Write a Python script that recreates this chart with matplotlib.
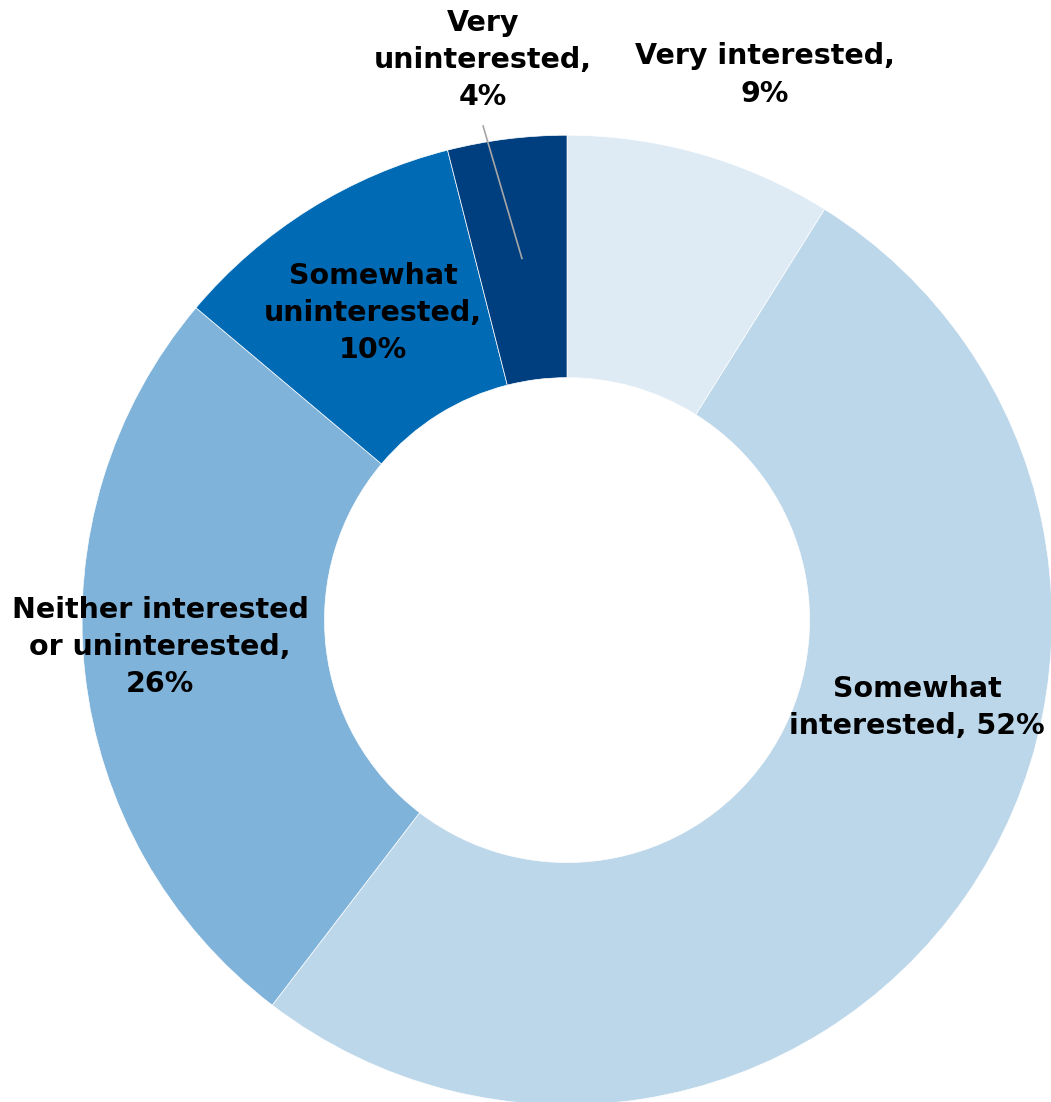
import matplotlib.pyplot as plt

categories = ["Very interested", "Somewhat interested", "Neither interested or uninterested",
              "Somewhat uninterested", "Very uninterested"]
values = [9, 52, 26, 10, 4]
labels = ["Very interested,\n9%", "Somewhat\ninterested, 52%", "Neither interested\nor uninterested,\n26%",
          "Somewhat\nuninterested,\n10%", "Very\nuninterested,\n4%"]
colors = ["#DEEBF5", "#BDD7EA", "#7FB3DA", "#006AB5", "#003F7F"]
label_pos = [(0.408, 1.124), (0.722, -0.181), (-0.839, -0.056), (-0.40, 0.633), (-0.173, 1.155)]

fig = plt.figure(figsize=(10.51, 11.02), dpi=100)
ax = fig.add_axes([0.078, -0.0027, 0.923, 0.880])
ax.pie(values, colors=colors, startangle=90, counterclock=False, radius=1,
       wedgeprops=dict(width=0.5, edgecolor="white", linewidth=0.5))
ax.set_xlim(-1, 1)
ax.set_ylim(-1, 1)
ax.set_aspect("auto")
ax.axis("off")

for lab, (x, y) in zip(labels, label_pos):
    ax.text(x, y, lab, ha="center", va="center", fontsize=20.5, fontweight="bold",
            linespacing=1.42, color="black", clip_on=False)

# leader line for the small slice
ax.plot([-0.173, -0.093], [1.019, 0.746], color="#A6A6A6", lw=1.2, clip_on=False)

plt.savefig("out.png", dpi=100)
